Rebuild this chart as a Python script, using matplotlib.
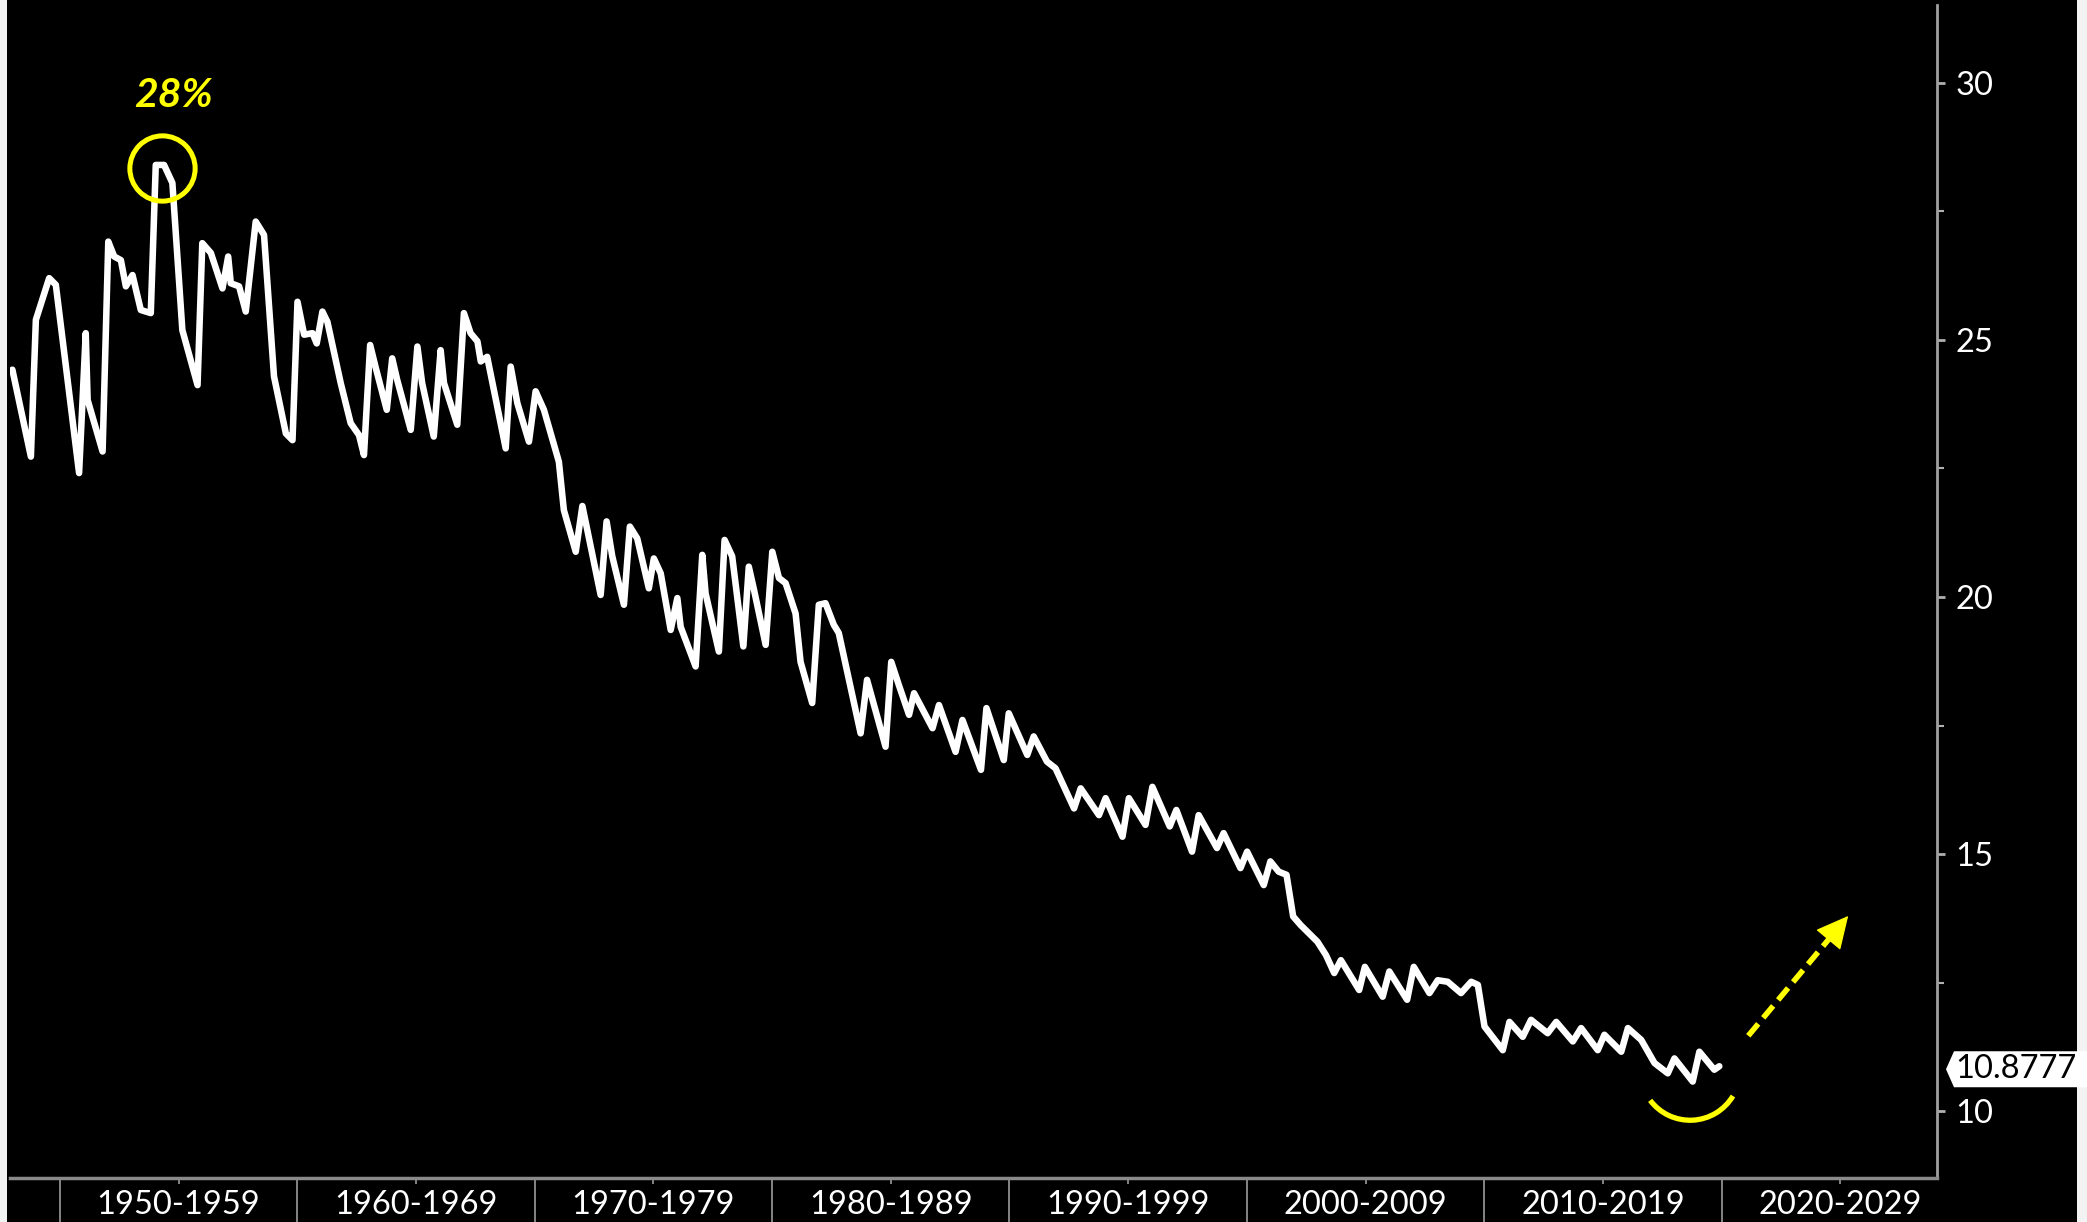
import matplotlib
matplotlib.use('Agg')
import matplotlib.pyplot as plt
from matplotlib.patches import Rectangle, Arc, Polygon
from matplotlib.transforms import IdentityTransform

# series vertices (year, value)
years = [1948.00, 1948.78, 1948.99, 1949.55, 1949.83, 1950.81, 1951.09, 1951.17, 1951.80, 1952.04,
         1952.29, 1952.57, 1952.78, 1953.06, 1953.41, 1953.83, 1954.04, 1954.39, 1954.74, 1955.16,
         1955.80, 1956.00, 1956.36, 1956.85, 1957.09, 1957.20, 1957.55, 1957.83, 1958.25, 1958.60,
         1959.02, 1959.52, 1959.80, 1960.01, 1960.29, 1960.64, 1960.82, 1961.06, 1961.27, 1961.83,
         1962.25, 1962.60, 1962.81, 1963.07, 1963.31, 1963.77, 1964.00, 1964.21, 1964.78, 1965.06,
         1965.26, 1965.75, 1966.04, 1966.18, 1966.74, 1967.02, 1967.30, 1967.59, 1967.73, 1968.00,
         1968.78, 1968.99, 1969.27, 1969.76, 1970.04, 1970.39, 1971.02, 1971.23, 1971.73, 1972.01,
         1972.78, 1973.03, 1973.27, 1973.76, 1974.01, 1974.32, 1974.81, 1975.02, 1975.31, 1975.73,
         1976.01, 1976.15, 1976.78, 1977.06, 1977.20, 1977.76, 1978.00, 1978.32, 1978.79, 1979.02,
         1979.24, 1979.73, 1980.01, 1980.29, 1980.57, 1980.99, 1981.20, 1981.69, 1981.97, 1982.25,
         1982.60, 1982.81, 1983.73, 1984.00, 1984.78, 1985.02, 1985.34, 1985.77, 1985.98, 1986.76,
         1987.03, 1987.73, 1988.02, 1988.80, 1989.03, 1989.76, 1989.97, 1990.75, 1991.02, 1991.58,
         1991.94, 1992.72, 1993.00, 1993.77, 1994.05, 1994.76, 1995.03, 1995.73, 1996.02, 1996.75,
         1997.03, 1997.69, 1997.97, 1998.74, 1999.02, 1999.73, 2000.01, 2000.71, 2000.99, 2001.34,
         2001.67, 2001.95, 2002.27, 2002.97, 2003.33, 2003.68, 2003.96, 2004.73, 2004.97, 2005.72,
         2006.00, 2006.75, 2007.03, 2007.69, 2008.04, 2008.46, 2009.02, 2009.45, 2009.73, 2010.01,
         2010.78, 2011.06, 2011.62, 2011.97, 2012.67, 2013.03, 2013.73, 2014.08, 2014.78, 2015.06,
         2015.77, 2016.05, 2016.61, 2017.17, 2017.73, 2018.01, 2018.78, 2019.06, 2019.69, 2019.90]
values = [24.42, 22.73, 25.39, 26.20, 26.07, 22.41, 25.13, 23.83, 22.83, 26.91,
          26.62, 26.55, 26.04, 26.26, 25.58, 25.52, 28.40, 28.40, 28.05, 25.19,
          24.12, 26.88, 26.69, 26.00, 26.62, 26.10, 26.04, 25.55, 27.30, 27.04,
          24.29, 23.18, 23.05, 25.74, 25.10, 25.13, 24.93, 25.55, 25.35, 24.16,
          23.38, 23.15, 22.76, 24.90, 24.45, 23.64, 24.64, 24.22, 23.25, 24.87,
          24.16, 23.12, 24.80, 24.16, 23.35, 25.52, 25.13, 24.97, 24.58, 24.67,
          22.89, 24.48, 23.77, 23.02, 24.00, 23.64, 22.63, 21.69, 20.88, 21.77,
          20.04, 21.47, 20.79, 19.85, 21.37, 21.14, 20.17, 20.75, 20.46, 19.36,
          19.98, 19.42, 18.65, 20.82, 20.07, 18.94, 21.11, 20.79, 19.04, 20.59,
          20.14, 19.07, 20.88, 20.37, 20.27, 19.68, 18.74, 17.94, 19.85, 19.88,
          19.46, 19.30, 17.35, 18.39, 17.09, 18.74, 18.29, 17.71, 18.13, 17.45,
          17.90, 16.99, 17.61, 16.64, 17.84, 16.83, 17.74, 16.93, 17.29, 16.80,
          16.67, 15.89, 16.28, 15.76, 16.09, 15.34, 16.09, 15.57, 16.31, 15.54,
          15.86, 15.05, 15.76, 15.12, 15.41, 14.73, 15.05, 14.40, 14.86, 14.66,
          14.60, 13.79, 13.62, 13.30, 13.04, 12.69, 12.94, 12.36, 12.81, 12.23,
          12.72, 12.17, 12.81, 12.30, 12.55, 12.52, 12.30, 12.52, 12.46, 11.65,
          11.19, 11.74, 11.45, 11.78, 11.52, 11.74, 11.36, 11.62, 11.19, 11.49,
          11.16, 11.62, 11.39, 10.94, 10.74, 11.03, 10.58, 11.16, 10.81, 10.8777]

decade_starts = [1950, 1960, 1970, 1980, 1990, 2000, 2010, 2020]
decade_labels = ['1950-1959', '1960-1969', '1970-1979', '1980-1989',
                 '1990-1999', '2000-2009', '2010-2019', '2020-2029']
y_ticks = [10, 15, 20, 25, 30]
y_minor = [12.5, 17.5, 22.5, 27.5]

peak_label = '28%'
peak_xy = (1954.29, 28.34)
peak_text_xy = (1954.8, 29.75)
trough_xy = (2018.67, 10.80)
arrow_from = (2021.12, 11.47)
arrow_to = (2025.33, 13.80)

W, H = 2087, 1222
plt.rcParams['font.family'] = ['Lato', 'DejaVu Sans']

fig = plt.figure(figsize=(W / 100, H / 100), dpi=100, facecolor='#f3f3f3')
fig.patches.append(Rectangle((7 / W, 0), 2070 / W, 1, transform=fig.transFigure,
                             facecolor='black', edgecolor='none', zorder=-5))
ax = fig.add_axes([10 / W, 44 / H, 1927 / W, 1173 / H])
ax.set_facecolor('black')

ax.plot(years, values, color='white', lw=4.7, solid_joinstyle='round', solid_capstyle='round')

ax.set_xlim(1947.9, 2029.07)
ax.set_ylim(8.705, 31.51)

# right axis
ax.yaxis.tick_right()
ax.set_yticks(y_ticks)
ax.set_yticks(y_minor, minor=True)
ax.tick_params(axis='y', which='major', direction='out', length=6, width=2,
               color='#b0b0b0', labelcolor='white', labelsize=23.5, pad=7)
ax.tick_params(axis='y', which='minor', direction='out', length=5, width=1.5, color='#b0b0b0')

# decade separators + labels
ax.set_xticks(decade_starts, labels=[''] * len(decade_starts))
ax.set_xticks([d + 5 for d in decade_starts], labels=decade_labels, minor=True)
ax.tick_params(axis='x', which='major', direction='out', length=32, width=1.3, color='#909090')
ax.tick_params(axis='x', which='minor', direction='out', length=4, width=1.3, color='#909090',
               labelcolor='white', labelsize=23.5, pad=4.5)

for s in ['top', 'left']:
    ax.spines[s].set_visible(False)
ax.spines['bottom'].set_color('#8a8a8a')
ax.spines['bottom'].set_linewidth(2.5)
ax.spines['right'].set_color('#a0a0a0')
ax.spines['right'].set_linewidth(2)

# annotations
ax.plot(*peak_xy, marker='o', ms=47, mfc='none', mec='#ffff00', mew=3.6)
ax.text(*peak_text_xy, peak_label, color='#ffff00', fontsize=29.5, fontweight='bold',
        style='italic', ha='center', va='center')

# smile under the latest low, drawn in pixel space so it stays round
cx, cy = ax.transData.transform(trough_xy)
ax.add_patch(Arc((cx, cy), 100, 100, theta1=217, theta2=329, color='#ffff00', lw=3.8,
                 transform=IdentityTransform()))

# dashed shaft + solid head
neck = (arrow_from[0] + 0.85 * (arrow_to[0] - arrow_from[0]),
        arrow_from[1] + 0.85 * (arrow_to[1] - arrow_from[1]))
ax.plot([arrow_from[0], neck[0]], [arrow_from[1], neck[1]], color='#ffff00', lw=4,
        linestyle=(0, (2.8, 1.4)), solid_capstyle='butt')
ax.annotate('', xy=arrow_to, xytext=neck,
            arrowprops=dict(arrowstyle='-|>,head_length=0.8,head_width=0.4', color='#ffff00',
                            lw=1, mutation_scale=26, shrinkA=0, shrinkB=0))

# last value tag on the right axis
sx, sy = ax.transData.transform((ax.get_xlim()[1], values[-1]))
sy -= 3
tag = Polygon([(sx + 9, sy), (sx + 17, sy + 18), (W, sy + 18), (W, sy - 18), (sx + 17, sy - 18)],
              closed=True, facecolor='white', edgecolor='none', transform=IdentityTransform(),
              clip_on=False)
fig.patches.append(tag)
fig.text((sx + 18) / W, sy / H, f'{values[-1]:.4f}', color='black', fontsize=23.5,
         ha='left', va='center')

fig.savefig('out.png', dpi=100, facecolor=fig.get_facecolor())
